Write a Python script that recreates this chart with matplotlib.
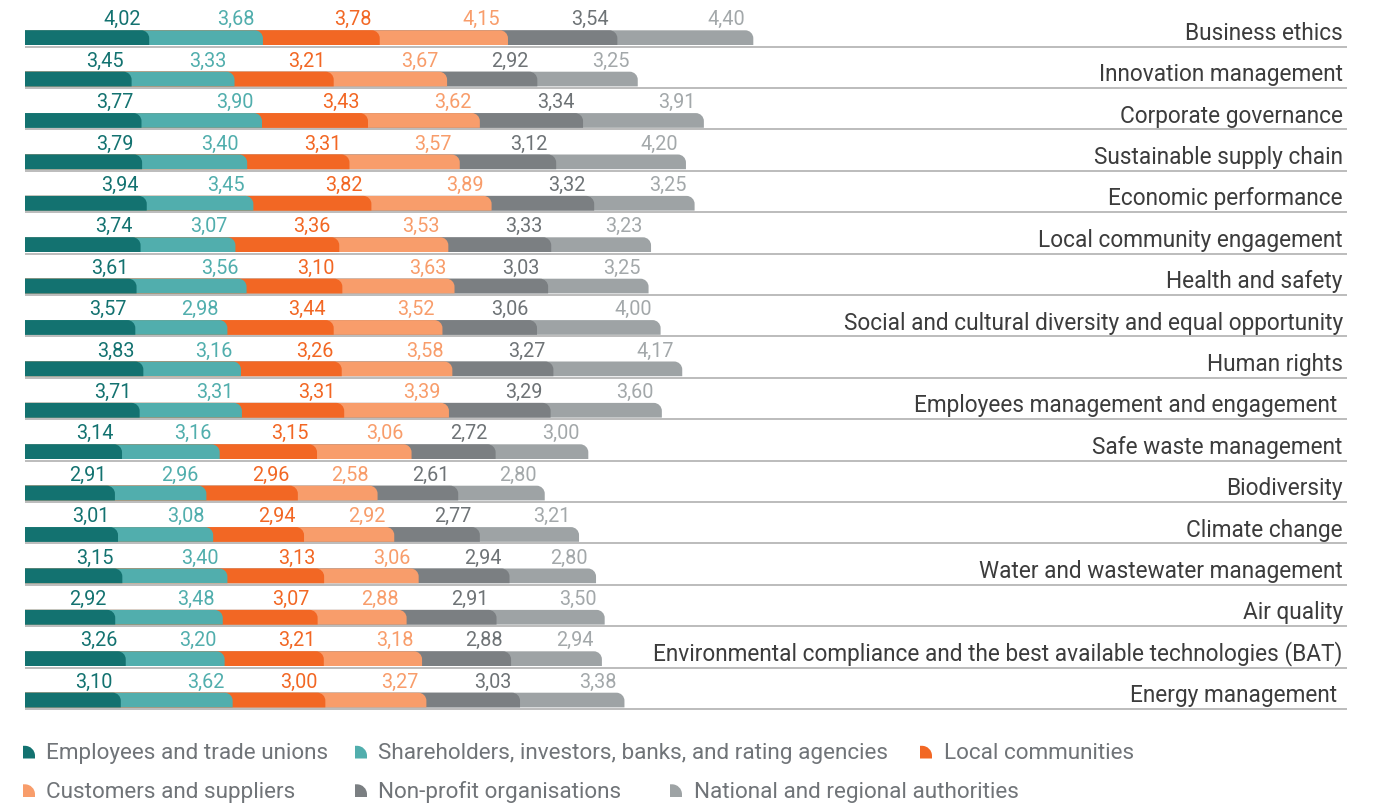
import matplotlib
matplotlib.use("Agg")
import matplotlib.pyplot as plt
from matplotlib.path import Path
from matplotlib.patches import PathPatch

plt.rcParams["font.family"] = ["Roboto", "DejaVu Sans"]

# ---- data -------------------------------------------------------------
topics = [
    "Business ethics",
    "Innovation management",
    "Corporate governance",
    "Sustainable supply chain",
    "Economic performance",
    "Local community engagement",
    "Health and safety",
    "Social and cultural diversity and equal opportunity",
    "Human rights",
    "Employees management and engagement ",
    "Safe waste management",
    "Biodiversity",
    "Climate change",
    "Water and wastewater management",
    "Air quality",
    "Environmental compliance and the best available technologies (BAT)",
    "Energy management ",
]

stakeholders = [
    "Employees and trade unions",
    "Shareholders, investors, banks, and rating agencies",
    "Local communities",
    "Customers and suppliers",
    "Non-profit organisations",
    "National and regional authorities",
]

employees = [4.02, 3.45, 3.77, 3.79, 3.94, 3.74, 3.61, 3.57, 3.83, 3.71, 3.14, 2.91, 3.01, 3.15, 2.92, 3.26, 3.10]
shareholders = [3.68, 3.33, 3.90, 3.40, 3.45, 3.07, 3.56, 2.98, 3.16, 3.31, 3.16, 2.96, 3.08, 3.40, 3.48, 3.20, 3.62]
communities = [3.78, 3.21, 3.43, 3.31, 3.82, 3.36, 3.10, 3.44, 3.26, 3.31, 3.15, 2.96, 2.94, 3.13, 3.07, 3.21, 3.00]
customers = [4.15, 3.67, 3.62, 3.57, 3.89, 3.53, 3.63, 3.52, 3.58, 3.39, 3.06, 2.58, 2.92, 3.06, 2.88, 3.18, 3.27]
nonprofits = [3.54, 2.92, 3.34, 3.12, 3.32, 3.33, 3.03, 3.06, 3.27, 3.29, 2.72, 2.61, 2.77, 2.94, 2.91, 2.88, 3.03]
authorities = [4.40, 3.25, 3.91, 4.20, 3.25, 3.23, 3.25, 4.00, 4.17, 3.60, 3.00, 2.80, 3.21, 2.80, 3.50, 2.94, 3.38]

series = [employees, shareholders, communities, customers, nonprofits, authorities]

bar_colors = ["#137270", "#51AEAD", "#F26724", "#F89D6B", "#7B7F82", "#9EA3A5"]
label_colors = ["#137270", "#51AEAD", "#F26724", "#F89D6B", "#6E7376", "#A3A8AA"]

# ---- figure / axes ----------------------------------------------------
W, H = 1379, 804
fig = plt.figure(figsize=(W / 100, H / 100), dpi=100)

ax_left, ax_right = 25, 1347          # pixel extent of the plotting area
ax_top, ax_bottom = 0, 720
ax = fig.add_axes([ax_left / W, (H - ax_bottom) / H,
                   (ax_right - ax_left) / W, (ax_bottom - ax_top) / H])

px_per_unit = 30.9                    # horizontal scale
row_px = 41.4                         # vertical pitch of rows
first_line_px = 47.5

xmax = (ax_right - ax_left) / px_per_unit
ax.set_xlim(0, xmax)
ax.set_ylim((ax_bottom - first_line_px) / row_px, (ax_top - first_line_px) / row_px)
ax.axis("off")

# corner radius in data units (same size in pixels in both directions)
r_px = 8.0
rx = r_px / px_per_unit
ry = r_px / row_px
k = 0.5523


def rounded_bar(x1, ytop, ybot):
    """Bar from x=0 to x1 with a rounded top-right corner."""
    verts = [
        (0, ybot), (x1, ybot), (x1, ytop + ry),
        (x1, ytop + ry * (1 - k)), (x1 - rx * (1 - k), ytop), (x1 - rx, ytop),
        (0, ytop), (0, ybot),
    ]
    codes = [Path.MOVETO, Path.LINETO, Path.LINETO,
             Path.CURVE4, Path.CURVE4, Path.CURVE4,
             Path.LINETO, Path.CLOSEPOLY]
    return Path(verts, codes)


bar_top = 16.2 / row_px
bar_bot = 1.5 / row_px

for i, topic in enumerate(topics):
    vals = [s[i] for s in series]
    cum = []
    total = 0.0
    for v in vals:
        total += v
        cum.append(total)
    # later segments go underneath so each rounded corner shows the next colour
    for j in range(len(vals) - 1, -1, -1):
        patch = PathPatch(rounded_bar(cum[j], i - bar_top, i - bar_bot),
                          facecolor=bar_colors[j], edgecolor="none", zorder=2 + (6 - j))
        ax.add_patch(patch)
        ax.annotate(f"{vals[j]:.2f}".replace(".", ","), xy=(cum[j], i - 0.535),
                    xytext=(-6, 0), textcoords="offset points",
                    ha="right", va="baseline", fontsize=14.3,
                    color=label_colors[j], zorder=10)
    ax.axhline(i, color="#A9A9A9", lw=1.1, zorder=1)
    ax.annotate(topic, xy=(xmax, i - 0.185), xytext=(-3, 0),
                textcoords="offset points", ha="right", va="baseline",
                fontsize=16.3, color="#3C3C3C", annotation_clip=False)

# ---- legend -----------------------------------------------------------
lax = fig.add_axes([0, 0, 1, 1])
lax.set_xlim(0, W)
lax.set_ylim(H, 0)
lax.axis("off")

legend_pos = [(23, 759.5), (355, 759.5), (920, 759.5), (23, 798), (355, 798), (670, 798)]
mw, mh, mr = 12.0, 12.7, 10.0
for (x, y), name, col in zip(legend_pos, stakeholders, bar_colors):
    verts = [
        (x, y), (x + mw, y), (x + mw, y - mh + mr),
        (x + mw, y - mh + mr * (1 - k)), (x + mw - mr * (1 - k), y - mh), (x + mw - mr, y - mh),
        (x, y - mh), (x, y),
    ]
    codes = [Path.MOVETO, Path.LINETO, Path.LINETO,
             Path.CURVE4, Path.CURVE4, Path.CURVE4,
             Path.LINETO, Path.CLOSEPOLY]
    lax.add_patch(PathPatch(Path(verts, codes), facecolor=col, edgecolor="none"))
    lax.text(x + 23.5, y, name, ha="left", va="baseline", fontsize=16.2, color="#707478")

fig.savefig("out.png", dpi=100)
